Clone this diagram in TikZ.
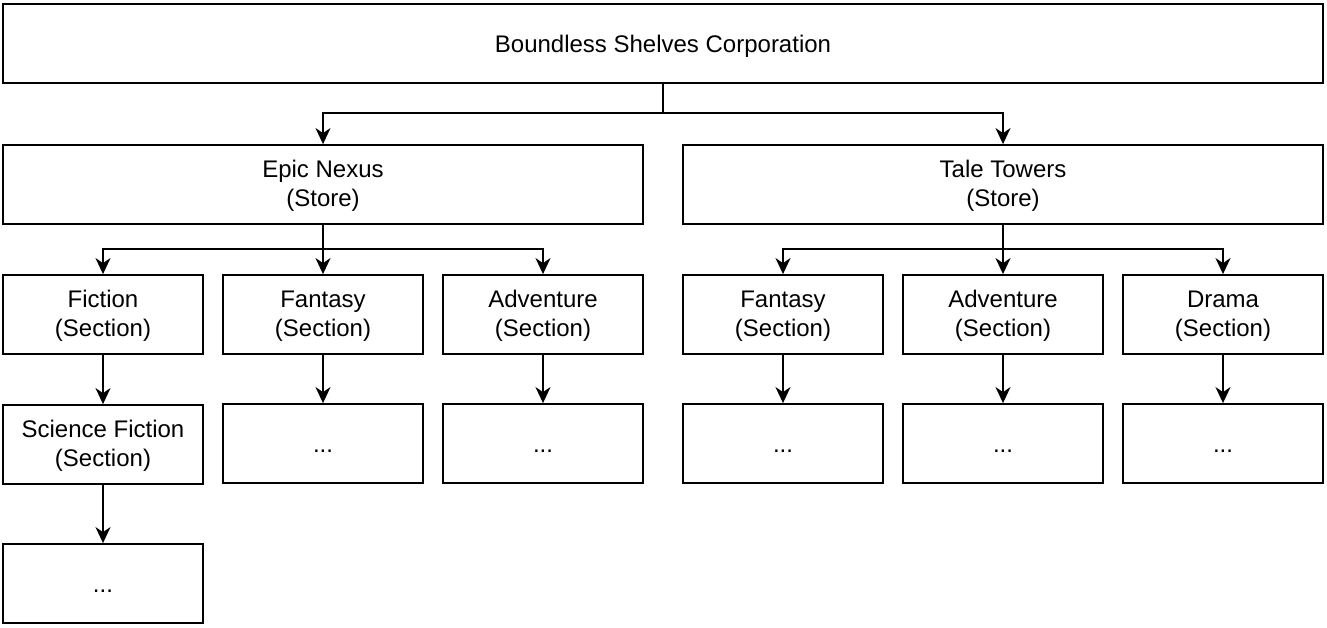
\documentclass[tikz,border=0pt]{standalone}
\usepackage{fontspec}
\setmainfont{Liberation Sans}
\usetikzlibrary{arrows.meta}
\begin{document}
\begin{tikzpicture}[x=1pt,y=-1pt,
  box/.style={draw, line width=1.8pt, inner sep=0pt, fill=white},
  txt/.style={inner sep=0pt, align=center, font=\fontsize{24}{29}\selectfont},
  wide/.style={box, minimum width=1320pt, minimum height=79pt},
  store/.style={box, minimum width=640pt, minimum height=79pt},
  sect/.style={box, minimum width=200pt, minimum height=79pt},
  dots/.style={sect, label={[txt, yshift=-7.5pt]center:...}},
  arr/.style={line width=1.8pt, -{Stealth[length=16pt,width=15pt,inset=5pt]}}
]
\useasboundingbox (0,0) rectangle (1327,628);
\node[wide, label={[txt, yshift=-2.5pt]center:Boundless Shelves Corporation}] (top) at (663,43.5) {};
\node[store, label={[txt, yshift=-1.5pt]center:Epic Nexus\\(Store)}] (en) at (323,184.5) {};
\node[store, label={[txt, yshift=-1.5pt]center:Tale Towers\\(Store)}] (tt) at (1003,184.5) {};
\node[sect, label={[txt, yshift=-1.5pt]center:Fiction\\(Section)}] (fic) at (103,314.5) {};
\node[sect, label={[txt, yshift=-1.5pt]center:Fantasy\\(Section)}] (fan1) at (323,314.5) {};
\node[sect, label={[txt, yshift=-1.5pt]center:Adventure\\(Section)}] (adv1) at (543,314.5) {};
\node[sect, label={[txt, yshift=-1.5pt]center:Fantasy\\(Section)}] (fan2) at (783,314.5) {};
\node[sect, label={[txt, yshift=-1.5pt]center:Adventure\\(Section)}] (adv2) at (1003,314.5) {};
\node[sect, label={[txt, yshift=-1.5pt]center:Drama\\(Section)}] (dra) at (1223,314.5) {};
\node[sect, label={[txt, yshift=-1.5pt]center:Science Fiction\\(Section)}] (sf) at (103,444.5) {};
\node[dots] (d1) at (323,443.5) {};
\node[dots] (d2) at (543,443.5) {};
\node[dots] (d3) at (783,443.5) {};
\node[dots] (d4) at (1003,443.5) {};
\node[dots] (d5) at (1223,443.5) {};
\node[dots] (d6) at (103,583.5) {};
\coordinate (j0) at (663,113);
\coordinate (j1) at (323,249);
\coordinate (j2) at (1003,249);
\draw[arr] (top.south) -- (j0) -| (en.north);
\draw[arr] (j0) -| (tt.north);
\draw[arr] (en.south) -- (j1) -| (fic.north);
\draw[arr] (j1) -- (fan1.north);
\draw[arr] (j1) -| (adv1.north);
\draw[arr] (tt.south) -- (j2) -| (fan2.north);
\draw[arr] (j2) -- (adv2.north);
\draw[arr] (j2) -| (dra.north);
\draw[arr] (fic) -- (sf);
\draw[arr] (fan1) -- (d1);
\draw[arr] (adv1) -- (d2);
\draw[arr] (fan2) -- (d3);
\draw[arr] (adv2) -- (d4);
\draw[arr] (dra) -- (d5);
\draw[arr] (sf) -- (d6);
\end{tikzpicture}
\end{document}
